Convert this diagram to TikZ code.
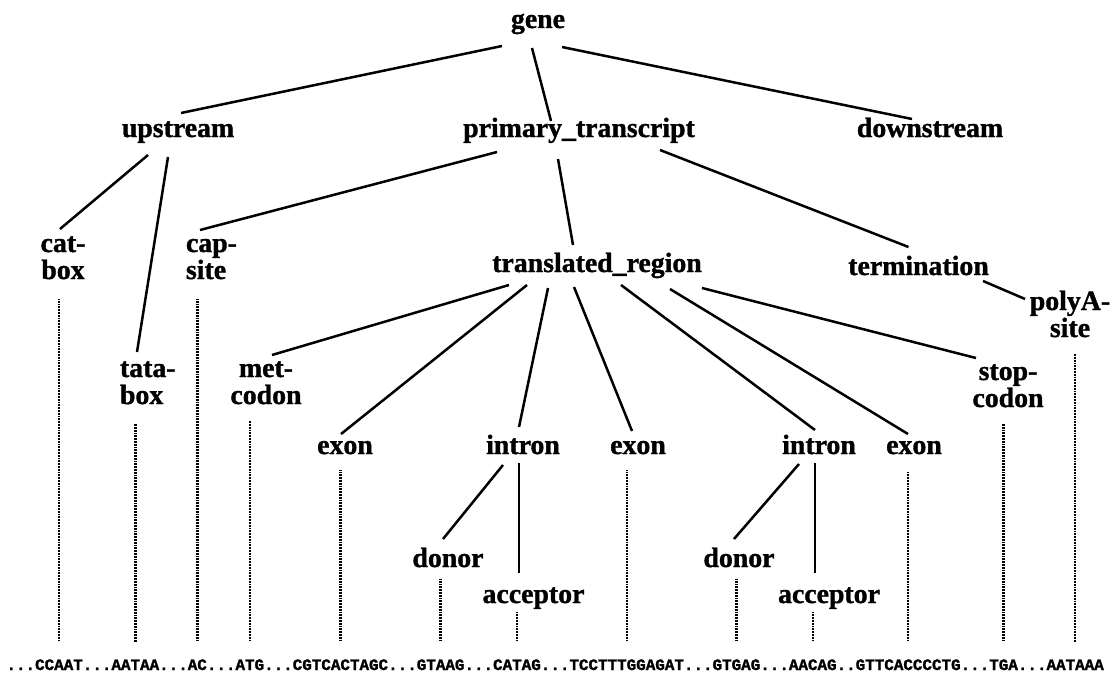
\documentclass[tikz,border=0pt]{standalone}
\usepackage{fontspec}
\setmainfont{Liberation Serif}[BoldFeatures={FakeBold=1.2}]
\newfontfamily\seqfont{Liberation Mono}[BoldFeatures={FakeBold=1.5}]
\usetikzlibrary{calc}
\begin{document}
\begin{tikzpicture}[x=1pt,y=-1pt,
  lbl/.style={font=\fontsize{27.8}{27}\selectfont\bfseries, inner sep=0pt, outer sep=0pt, anchor=base},
  ml/.style={lbl, align=center},
  mll/.style={lbl, align=left, anchor=base west},
  seq/.style={font=\fontsize{15.9}{16}\selectfont\seqfont\bfseries, inner sep=0pt, outer sep=0pt, anchor=base west},
  edge/.style={line width=2.5pt},
  dotline/.style={line width=2.4pt, dash pattern=on 1.7pt off 1.1pt, shorten >=17pt}]
\useasboundingbox (0,0) rectangle (1118,677);
% tree labels (multi-line labels are anchored at the baseline of their last line)
\node[lbl] (gene) at (538,28) {gene};
\node[lbl] (up) at (178,137) {upstream};
\node[lbl] (pt) at (579,137) {primary\_transcript};
\node[lbl] (down) at (930,137) {downstream};
\node[ml] (cat) at (63,279) {cat-\\box};
\node[mll] (cap) at (186,279) {cap-\\site};
\node[lbl] (tr) at (597,272) {translated\_region};
\node[lbl] (term) at (918.5,275) {termination};
\node[ml] (polya) at (1070,337) {polyA-\\site};
\node[mll] (tata) at (120,404) {tata-\\box};
\node[ml] (met) at (266,404) {met-\\codon};
\node[ml] (stop) at (1008,407) {stop-\\codon};
\node[lbl] (ex1) at (345,454) {exon};
\node[lbl] (in1) at (523,454) {intron};
\node[lbl] (ex2) at (638,454) {exon};
\node[lbl] (in2) at (819,454) {intron};
\node[lbl] (ex3) at (914,454) {exon};
\node[lbl] (do1) at (448,567) {donor};
\node[lbl] (ac1) at (533.5,603) {acceptor};
\node[lbl] (do2) at (739,567) {donor};
\node[lbl] (ac2) at (829,603) {acceptor};
% sequence
\node[seq] (q0) at (6.5,670) {...};
\node[seq] (s1) at (q0.base east) {CCAAT};
\node[seq] (q1) at (s1.base east) {...};
\node[seq] (s2) at (q1.base east) {AATAA};
\node[seq] (q2) at (s2.base east) {...};
\node[seq] (s3) at (q2.base east) {AC};
\node[seq] (q3) at (s3.base east) {...};
\node[seq] (s4) at (q3.base east) {ATG};
\node[seq] (q4) at (s4.base east) {...};
\node[seq] (s5) at (q4.base east) {CGTCACTAGC};
\node[seq] (q5) at (s5.base east) {...};
\node[seq] (s6) at (q5.base east) {GTAAG};
\node[seq] (q6) at (s6.base east) {...};
\node[seq] (s7) at (q6.base east) {CATAG};
\node[seq] (q7) at (s7.base east) {...};
\node[seq] (s8) at (q7.base east) {TCCTTTGGAGAT};
\node[seq] (q8) at (s8.base east) {...};
\node[seq] (s9) at (q8.base east) {GTGAG};
\node[seq] (q9) at (s9.base east) {...};
\node[seq] (s10) at (q9.base east) {AACAG};
\node[seq] (q10) at (s10.base east) {..};
\node[seq] (s11) at (q10.base east) {GTTCACCCCTG};
\node[seq] (q11) at (s11.base east) {...};
\node[seq] (s12) at (q11.base east) {TGA};
\node[seq] (q12) at (s12.base east) {...};
\node[seq] (s13) at (q12.base east) {AATAAA};
% tree edges
\draw[edge] ($(gene.base)+(-36,18)$) -- ($(up.base)+(3,-24)$);
\draw[edge] ($(gene.base)+(-6,20)$) -- ($(pt.base)+(-28,-16)$);
\draw[edge] ($(gene.base)+(24,19)$) -- ($(down.base)+(-18,-18)$);
\draw[edge] ($(up.base)+(-30,18)$) -- ($(cat.base)+(-3,-50)$);
\draw[edge] ($(up.base)+(-10,20)$) -- ($(tata.base west)+(17,-52)$);
\draw[edge] ($(pt.base)+(-82,15)$) -- ($(cap.base west)+(14,-49)$);
\draw[edge] ($(pt.base)+(-21,22)$) -- ($(tr.base)+(-24,-27)$);
\draw[edge] ($(pt.base)+(81,13)$) -- ($(term.base)+(-10,-28)$);
\draw[edge] ($(tr.base)+(-88,13)$) -- ($(met.base)+(6,-49)$);
\draw[edge] ($(tr.base)+(-70,13)$) -- ($(ex1.base)+(-4,-20)$);
\draw[edge] ($(tr.base)+(-49,16)$) -- ($(in1.base)+(-4,-27)$);
\draw[edge] ($(tr.base)+(-23,15)$) -- ($(ex2.base)+(-6,-23)$);
\draw[edge] ($(tr.base)+(24,13)$) -- ($(in2.base)+(-4,-24)$);
\draw[edge] ($(tr.base)+(73,17)$) -- ($(ex3.base)+(-6,-20)$);
\draw[edge] ($(tr.base)+(105,16)$) -- ($(stop.base)+(-32,-49)$);
\draw[edge] ($(term.base)+(64.5,6)$) -- ($(polya.base)+(-45,-38)$);
\draw[edge] ($(in1.base)+(-20,11)$) -- ($(do1.base)+(-5,-28)$);
\draw[edge] ($(in1.base)+(-4,9)$) -- ($(ac1.base)+(-14.5,-30)$);
\draw[edge] ($(in2.base)+(-20,10)$) -- ($(do2.base)+(-5,-28)$);
\draw[edge] ($(in2.base)+(-4,9)$) -- ($(ac2.base)+(-14,-30)$);
% dotted links to the sequence
\draw[dotline,shorten >=20pt] ([yshift=18pt]s1.north) -- (s1.north |- cat.south);
\draw[dotline,shorten >=19pt] ([yshift=18pt]s2.north) -- (s2.north |- tata.south);
\draw[dotline,shorten >=20pt] ([yshift=18pt]s3.north) -- (s3.north |- cap.south);
\draw[dotline] ([yshift=18pt]s4.north) -- (s4.north |- met.south);
\draw[dotline,shorten >=16pt] ([yshift=18pt]s5.north) -- (s5.north |- ex1.south);
\draw[dotline,shorten >=12pt] ([yshift=18pt]s6.north) -- (s6.north |- do1.south);
\draw[dotline,shorten >=2pt] ([yshift=18pt]s7.north) -- (s7.north |- ac1.south);
\draw[dotline,shorten >=16pt] ([yshift=18pt]s8.north) -- (s8.north |- ex2.south);
\draw[dotline,shorten >=12pt] ([yshift=18pt]s9.north) -- (s9.north |- do2.south);
\draw[dotline,shorten >=2pt] ([yshift=18pt]s10.north) -- (s10.north |- ac2.south);
\draw[dotline,shorten >=17pt] ([yshift=18pt]s11.north) -- (s11.north |- ex3.south);
\draw[dotline,shorten >=16pt] ([yshift=18pt]s12.north) -- (s12.north |- stop.south);
\draw[dotline] ([yshift=18pt]s13.north) -- (s13.north |- polya.south);
\end{tikzpicture}
\end{document}
